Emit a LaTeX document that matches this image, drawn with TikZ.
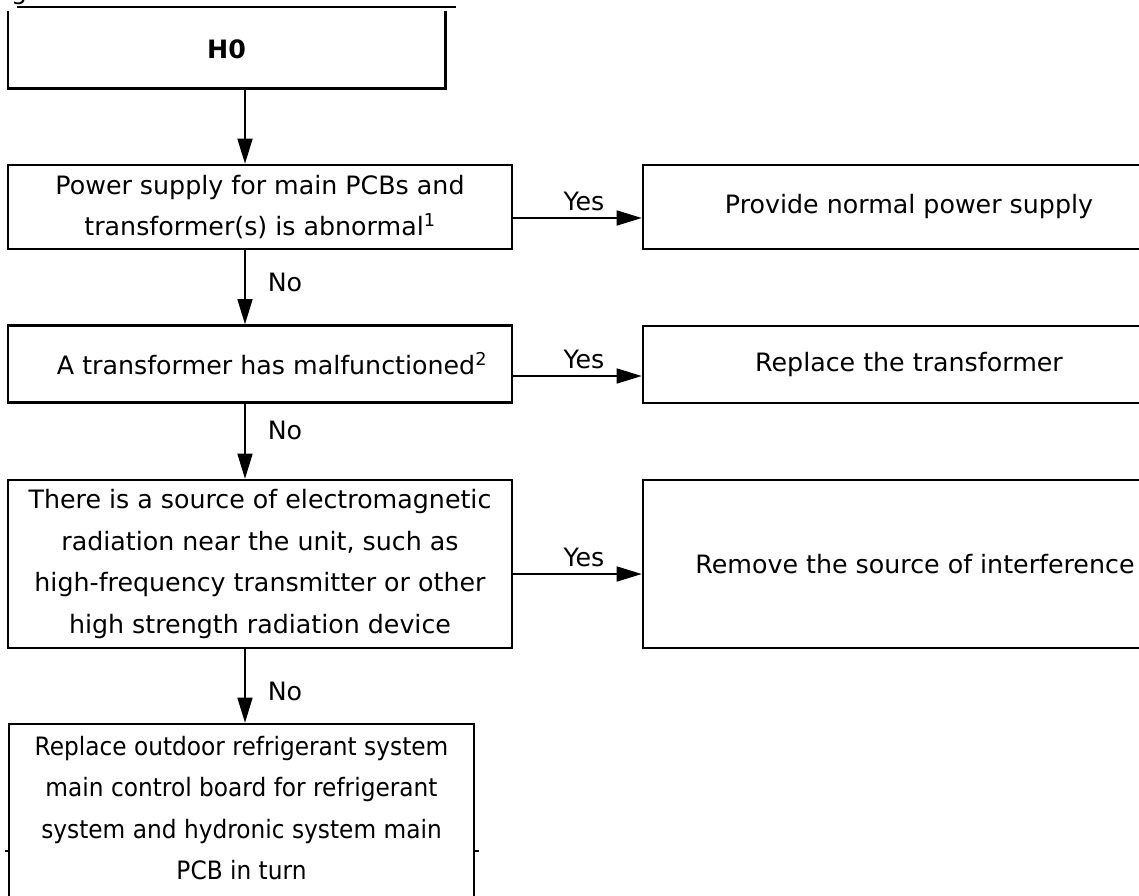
\documentclass[tikz,border=0pt]{standalone}
\usepackage{fontspec}
\setmainfont{DejaVu Sans}
\newfontfamily\narrowfont{DejaVu Sans}[FakeStretch=0.92]
\usetikzlibrary{arrows.meta}
\begin{document}
\begin{tikzpicture}[x=1pt,y=-1pt,
  txt/.style={font=\fontsize{25.3}{41.5}\selectfont, align=center, inner sep=0pt},
  box/.style={txt, draw, line width=2.6pt, rectangle},
  flow/.style={line width=1.6pt, -{Triangle[length=25pt,width=15pt]}},
  lbl/.style={font=\fontsize{25.3}{30}\selectfont, inner sep=0pt}]
\useasboundingbox (0,0) rectangle (1139,895);
\clip (0,0) rectangle (1139,895);
% header fragment
\node[lbl, anchor=base west] (hdr) at (11,-1) {g};
\draw[line width=2.4pt] (17,7) coordinate (hl) -- (456,7) coordinate (hr);
\coordinate (axis) at (245,0);
% H0 box (top edge not drawn)
\node[txt, minimum width=437pt, minimum height=77pt] (h0) at (226.5,49.5) {\bfseries H0};
\draw[line width=2.6pt] (h0.north west) -- (h0.south west) -- (h0.south east) -- (h0.north east);
% left column
\node[box, minimum width=504pt, minimum height=84pt] (p1) at (260,207)
  {Power supply for main PCBs and\\transformer(s) is abnormal\textsuperscript{1}};
\node[box, minimum width=504pt, minimum height=77pt] (p2) at (260,364)
  {\hspace*{24pt}A transformer has malfunctioned\textsuperscript{2}};
\node[box, minimum width=504pt, minimum height=168pt] (p3) at (260,564)
  {There is a source of electromagnetic\\radiation near the unit, such as\\high-frequency transmitter or other\\high strength radiation device};
\node[draw, line width=2.6pt, minimum width=465pt, minimum height=200pt, inner sep=0pt] (p4) at (241.5,824) {};
\node[txt, font=\fontsize{25.3}{41.5}\narrowfont] (p4t) at (241.5,808)
  {Replace outdoor refrigerant system\\main control board for refrigerant\\system and hydronic system main\\PCB in turn};
\draw[line width=1.2pt] (p4.west |- 0,851) ++(-3,0) -- ++(3,0);
\draw[line width=1.2pt] (p4.east |- 0,851) -- ++(3.5,0);
% right column
\node[box, minimum width=532pt, minimum height=84pt] (r1) at (909,207) {Provide normal power supply};
\node[box, minimum width=532pt, minimum height=77pt] (r2) at (909,364.5) {Replace the transformer};
\node[box, minimum width=532pt, minimum height=168pt] (r3) at (909,564) {\hspace*{12pt}Remove the source of interference};
% connectors
\draw[flow] (axis |- h0.south) -- (axis |- p1.north);
\draw[flow] (axis |- p1.south) -- node[lbl, right=22pt, pos=0.44] {No} (axis |- p2.north);
\draw[flow] (axis |- p2.south) -- node[lbl, right=22pt, pos=0.36] {No} (axis |- p3.north);
\draw[flow] (axis |- p3.south) -- node[lbl, right=22pt, pos=0.58] {No} (axis |- p4.north);
\draw[flow] ([yshift=-11pt]p1.east) -- node[lbl, above=6pt, pos=0.55] {Yes} ([yshift=-11pt]p1.east -| r1.west);
\draw[flow] ([yshift=-12pt]p2.east) -- node[lbl, above=6pt, pos=0.55] {Yes} ([yshift=-12pt]p2.east -| r2.west);
\draw[flow] ([yshift=-10pt]p3.east) -- node[lbl, above=6pt, pos=0.55] {Yes} ([yshift=-10pt]p3.east -| r3.west);
\end{tikzpicture}
\end{document}
